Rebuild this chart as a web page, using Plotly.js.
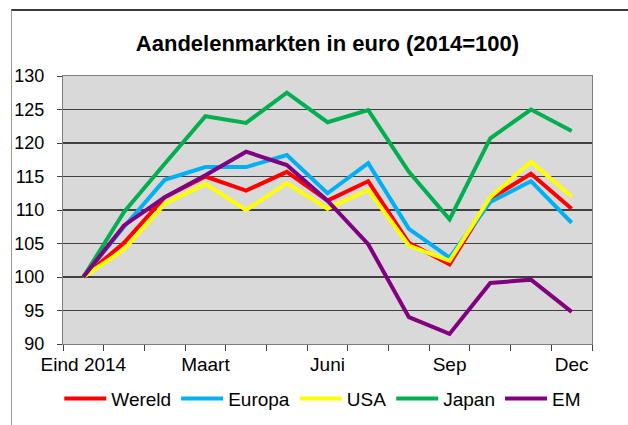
<!DOCTYPE html>
<html>
<head>
<meta charset="utf-8">
<script src="https://cdn.plot.ly/plotly-3.0.1.min.js"></script>
<style>
  html, body { margin: 0; padding: 0; background: #fff; }
  #wrap { position: relative; width: 628px; height: 425px; overflow: hidden; }
  #chart { position: absolute; left: 0; top: 0; width: 628px; height: 425px; }
  #frame { position: absolute; left: 11px; top: 9px; width: 640px; height: 440px;
           border-top: 2px solid #3a3a3a; border-left: 1px solid #9a9a9a; pointer-events: none; }
</style>
</head>
<body>
<div id="wrap">
  <div id="chart"></div>
  <div id="frame"></div>
</div>
<script>
// Categories (month-end points) and visible tick labels
const months = ['Eind 2014', 'Jan', 'Feb', 'Maart', 'Apr', 'Mei', 'Juni', 'Jul', 'Aug', 'Sep', 'Okt', 'Nov', 'Dec'];
const tickLabels = ['Eind 2014', '', '', 'Maart', '', '', 'Juni', '', '', 'Sep', '', '', 'Dec'];

// Series values (index, 2014 = 100)
const wereld = [100, 105.1, 111.9, 115.0, 112.9, 115.7, 111.4, 114.3, 105.1, 101.9, 111.7, 115.4, 110.2];
const europa = [100, 107.5, 114.5, 116.4, 116.4, 118.2, 112.5, 117.0, 107.2, 102.9, 111.2, 114.3, 108.1];
const usa    = [100, 104.1, 110.9, 113.9, 110.0, 114.0, 110.2, 113.0, 104.7, 102.4, 111.9, 117.2, 112.0];
const japan  = [100, 109.7, 116.9, 124.0, 123.0, 127.5, 123.1, 124.9, 115.7, 108.6, 120.7, 125.0, 121.8];
const em     = [100, 107.7, 111.9, 115.2, 118.7, 116.7, 111.4, 104.9, 94.0, 91.5, 99.1, 99.6, 94.8];

const seriesNames = ['Wereld', 'Europa', 'USA', 'Japan', 'EM'];
const seriesData = [wereld, europa, usa, japan, em];
const seriesColors = ['#ff0000', '#00b0f0', '#ffff00', '#00b050', '#800080'];

const traces = seriesNames.map((name, i) => ({
  type: 'scatter',
  mode: 'lines',
  name: name,
  x: months,
  y: seriesData[i],
  line: { color: seriesColors[i], width: 4 },
  hoverinfo: 'skip'
}));

const font = 'Liberation Sans, Arial, sans-serif';

const layout = {
  width: 628,
  height: 425,
  margin: { l: 63, r: 36, t: 76, b: 81, pad: 0 },
  paper_bgcolor: '#ffffff',
  plot_bgcolor: '#d9d9d9',
  font: { family: font, color: '#000000' },
  title: {
    text: '<b>Aandelenmarkten in euro (2014=100)</b>',
    font: { family: font, size: 22, color: '#000000' },
    xref: 'paper', x: 0.5, xanchor: 'center',
    yref: 'container', y: 0.897, yanchor: 'middle'
  },
  xaxis: {
    type: 'category',
    categoryorder: 'array',
    categoryarray: months,
    range: [-0.5, 12.5],
    autorange: false,
    tickmode: 'array',
    tickvals: months,
    ticktext: tickLabels,
    tickangle: 0,
    tickson: 'boundaries',
    ticks: 'outside',
    ticklen: 6,
    tickwidth: 1,
    tickcolor: '#404040',
    ticklabelstandoff: 3,
    showline: true,
    linecolor: '#7f7f7f',
    linewidth: 1,
    mirror: true,
    showgrid: false,
    zeroline: false,
    automargin: false,
    tickfont: { family: font, size: 19, color: '#000000' },
    fixedrange: true
  },
  yaxis: {
    range: [90, 130],
    autorange: false,
    tickmode: 'array',
    tickvals: [90, 95, 100, 105, 110, 115, 120, 125, 130],
    ticks: 'outside',
    ticklen: 5,
    tickwidth: 1,
    tickcolor: '#404040',
    ticklabelstandoff: 9,
    showline: true,
    linecolor: '#7f7f7f',
    linewidth: 1,
    mirror: true,
    showgrid: true,
    gridcolor: '#404040',
    gridwidth: 1.5,
    zeroline: false,
    automargin: false,
    tickfont: { family: font, size: 18, color: '#000000' },
    fixedrange: true
  },
  showlegend: true,
  legend: {
    orientation: 'h',
    xref: 'container', x: 0.514, xanchor: 'center',
    yref: 'container', y: 0.062, yanchor: 'middle',
    font: { family: font, size: 19, color: '#000000' },
    bgcolor: 'rgba(0,0,0,0)',
    itemwidth: 42,
    tracegroupgap: 0
  }
};

Plotly.newPlot('chart', traces, layout, { staticPlot: true, displayModeBar: false });
</script>
</body>
</html>
